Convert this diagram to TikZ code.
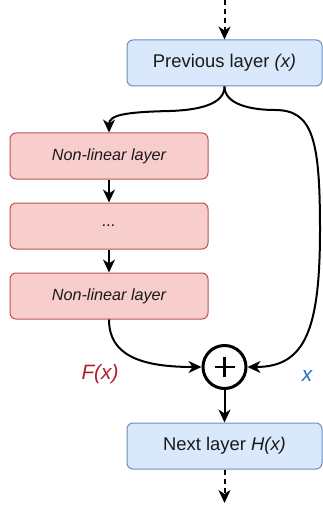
\documentclass[tikz,border=0pt]{standalone}
\usepackage{fontspec}
\setmainfont{Liberation Sans}
\usetikzlibrary{arrows.meta}
\definecolor{bluefill}{HTML}{DAE8FC}
\definecolor{bluedraw}{HTML}{6C8EBF}
\definecolor{redfill}{HTML}{F8CECC}
\definecolor{reddraw}{HTML}{B85450}
\definecolor{txt}{HTML}{1A1A1A}
\definecolor{fxred}{RGB}{178,30,40}
\definecolor{xblue}{RGB}{40,108,190}
\tikzset{
  bluebox/.style={draw=bluedraw, fill=bluefill, line width=1pt, rounded corners=6pt,
    minimum width=195pt, minimum height=46pt, inner sep=0pt, text=txt,
    font=\fontsize{18.4}{22}\selectfont},
  redbox/.style={draw=reddraw, fill=redfill, line width=1pt, rounded corners=6pt,
    minimum width=198pt, minimum height=46pt, inner sep=0pt, text=txt,
    font=\fontsize{16.2}{20}\selectfont\itshape},
  conn/.style={line width=2pt, -{Stealth[length=13pt,width=12pt,inset=4pt]}},
  dconn/.style={conn, dash pattern=on 5pt off 4pt},
  sumnode/.style={circle, draw, line width=3pt, minimum size=43pt, inner sep=0pt},
  lbl/.style={font=\fontsize{20.8}{24}\selectfont\itshape}
}
\begin{document}
\begin{tikzpicture}[x=1pt,y=-1pt]
\useasboundingbox (0,0) rectangle (322,505);
\node[bluebox] (prev) at (224.5,63) {Previous layer \textit{(x)}};
\node[redbox] (nl1) at (109,156) {Non-linear layer};
\node[redbox] (nl2) at (109,226) {...};
\node[redbox] (nl3) at (109,296) {Non-linear layer};
\node[sumnode] (sum) at (224.5,367) {};
\node[bluebox] (next) at (224.5,446) {Next layer \textit{H(x)}};
\node[lbl, text=fxred] (fx) at (100,374) {F(x)};
\node[lbl, text=xblue] (xl) at (307,376) {x};
\coordinate (top) at (224.5,0);
\coordinate (bot) at (224.5,503);
\draw[line width=2.5pt] ([xshift=-10pt]sum.center) -- ([xshift=10pt]sum.center);
\draw[line width=2.5pt] ([yshift=-10pt]sum.center) -- ([yshift=10pt]sum.center);
\draw[dconn] (top) -- (prev.north);
\draw[dconn] (next.south) -- (bot);
\draw[conn] (prev.south) .. controls (224.5,104) and (200,110) .. (170,111)
   .. controls (125,112) and (109,115) .. (nl1.north);
\draw[conn] (prev.south) .. controls (224.5,104) and (250,110) .. (275,110)
   .. controls (313,110) and (320,140) .. (320,230)
   .. controls (320,330) and (305,367) .. (sum.east);
\draw[conn] (nl1.south) -- (nl2.north);
\draw[conn] (nl2.south) -- (nl3.north);
\draw[conn] (nl3.south) .. controls (109,355) and (140,367) .. (sum.west);
\draw[conn] (sum.south) -- (next.north);
\end{tikzpicture}
\end{document}
